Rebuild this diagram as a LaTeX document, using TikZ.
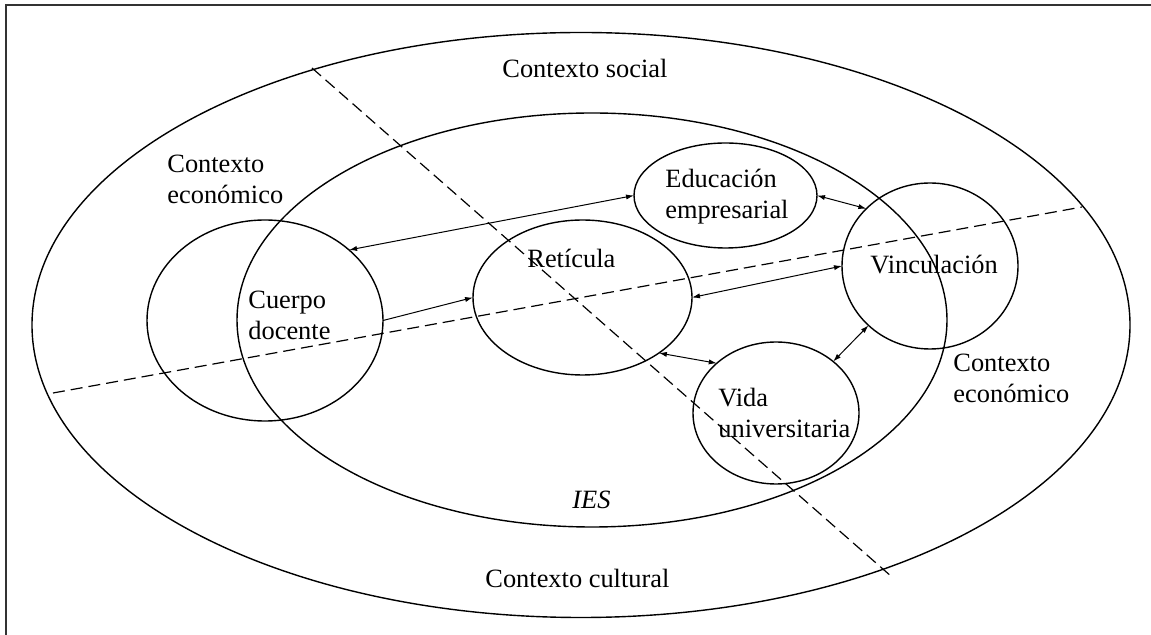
\documentclass[tikz,border=0pt]{standalone}
\usepackage{fontspec}
\setmainfont{Liberation Serif}
\usetikzlibrary{shapes.geometric,arrows.meta}

\begin{document}
\begin{tikzpicture}[
  x=0.5pt,y=-0.5pt,
  font=\fontsize{13.2}{15.5}\selectfont,
  zone/.style={draw,ellipse,line width=0.7pt,inner sep=0pt,outer sep=0pt},
  txt/.style={inner sep=0pt,align=left,anchor=west},
  arr/.style={-{Latex[length=4pt,width=2.6pt]},line width=0.5pt},
  biarr/.style={{Latex[length=4pt,width=2.6pt]}-{Latex[length=4pt,width=2.6pt]},line width=0.5pt},
  cut/.style={dash pattern=on 6pt off 3pt,line width=0.6pt}
]
\useasboundingbox (0,0) rectangle (1151,635);

% ---------- frame ----------
\draw[line width=0.8pt,black!80] (6,635) -- (6,5) -- (1151,5);

% ---------- zones ----------
\node[zone,minimum width=549pt,minimum height=292.5pt] (soc) at (581,325) {};
\node[zone,minimum width=355pt,minimum height=207pt] (ies) at (592,320) {};
\node[zone,minimum width=118pt,minimum height=100.5pt] (cuerpo) at (265,320.5) {};
\node[zone,minimum width=109.5pt,minimum height=77.5pt] (ret) at (582.5,297.5) {};
\node[zone,minimum width=91.5pt,minimum height=52.5pt] (edu) at (725.5,195.5) {};
\node[zone,minimum width=88pt,minimum height=83pt] (vinc) at (930,266) {};
\node[zone,minimum width=83pt,minimum height=71pt] (vida) at (776,413) {};

% ---------- dashed cuts ----------
\coordinate (cutAa) at (312,68);
\coordinate (cutAb) at (892,577);
\coordinate (cutBa) at (53,393);
\coordinate (cutBb) at (1082,207);
\draw[cut] (cutAa) -- (cutAb);
\draw[cut] (cutBa) -- (cutBb);

% ---------- links ----------
\draw[biarr] (edu.180) -- (cuerpo.40);
\draw[arr] (cuerpo.0) -- (ret.180);
\draw[biarr] (ret.0) -- (vinc.180);
\draw[biarr] (edu.0) -- (vinc.138);
\draw[biarr] (ret.-36) -- (vida.140);
\draw[biarr] (vida.42) -- (vinc.224);

% ---------- labels ----------
\node[txt] (tsoc) at (502,68) {Contexto social};
\node[txt] (tcul) at (485,578) {Contexto cultural};
\node[txt] (tecoL) at (167,179) {Contexto\\económico};
\node[txt] (tecoR) at (953,378) {Contexto\\económico};
\node[txt] (ties) at (572,500) {\itshape IES};
\node[txt] (tcuerpo) at (248,315) {Cuerpo\\docente};
\node[txt] (tret) at (527,258) {Retícula};
\node[txt] (tedu) at (665,197) {Educación\\empresarial};
\node[txt] (tvinc) at (870,265) {Vinculación};
\node[txt] (tvida) at (718,412.5) {Vida\\universitaria};

\end{tikzpicture}
\end{document}
